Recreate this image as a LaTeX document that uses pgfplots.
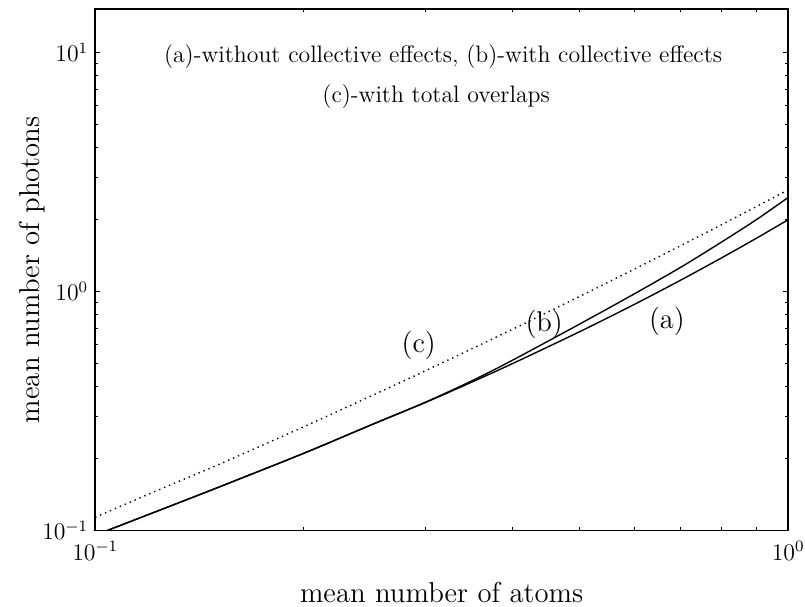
\documentclass[border=0pt]{standalone}
\usepackage{pgfplots}
\pgfplotsset{compat=1.18}
\begin{document}
\begin{tikzpicture}
\begin{axis}[
  at={(0pt,0pt)}, anchor=south west,
  scale only axis, width=349.5pt, height=263pt,
  xmode=log, ymode=log,
  xmin=0.1, xmax=1, ymin=0.1, ymax=15.2,
  axis line style={line width=0.8pt},
  tick align=inside, tick pos=both,
  major tick length=2.5pt, minor tick length=1.5pt,
  tick style={black, line width=0.5pt},
  ticklabel style={font=\fontsize{12}{14}\selectfont},
  xticklabel style={yshift=-2pt},
  xlabel={mean number of atoms}, ylabel={mean number of photons},
  label style={font=\fontsize{14.5}{17}\selectfont},
  xlabel style={at={(axis description cs:0.5,-0.1198)}, anchor=center},
  ylabel style={at={(axis description cs:-0.0916,0.5)}, anchor=center},
]
% (a) without collective effects
\addplot[black, line width=0.7pt, smooth, tension=0.5] coordinates {
(0.1,0.0955) (0.1259,0.1237) (0.15,0.1508) (0.2,0.2102) (0.25,0.2760) (0.3,0.3434) (0.35,0.418) (0.4,0.4985) (0.5,0.678) (0.6,0.8826) (0.7,1.115) (0.8,1.377) (0.9,1.669) (1.0,1.995)
};
% (b) with collective effects
\addplot[black, line width=0.7pt, smooth, tension=0.5] coordinates {
(0.1,0.0955) (0.1259,0.1237) (0.15,0.1508) (0.2,0.2102) (0.25,0.2762) (0.3,0.3445) (0.35,0.423) (0.4,0.515) (0.5,0.7297) (0.6,0.977) (0.7,1.262) (0.8,1.603) (0.9,1.997) (1.0,2.472)
};
% (c) with total overlaps
\addplot[black, line width=0.7pt, dotted, smooth, tension=0.5] coordinates {
(0.1,0.1135) (0.125,0.150) (0.15,0.1875) (0.2,0.2714) (0.25,0.365) (0.3,0.4662) (0.4,0.6937) (0.5,0.9522) (0.6,1.2395) (0.7,1.554) (0.8,1.896) (0.9,2.264) (1.0,2.659)
};
\node[font=\large] at (axis description cs:0.502,0.909) {(a)-without collective effects, (b)-with collective effects};
\node[font=\large] at (axis description cs:0.492,0.831) {(c)-with total overlaps};
\node[font=\Large] at (axis description cs:0.467,0.354) {(c)};
\node[font=\Large] at (axis description cs:0.648,0.395) {(b)};
\node[font=\Large] at (axis description cs:0.825,0.401) {(a)};
\end{axis}
\pgfresetboundingbox
\useasboundingbox (-48pt,-38.5pt) rectangle (358pt,267.5pt);
\end{tikzpicture}
\end{document}
